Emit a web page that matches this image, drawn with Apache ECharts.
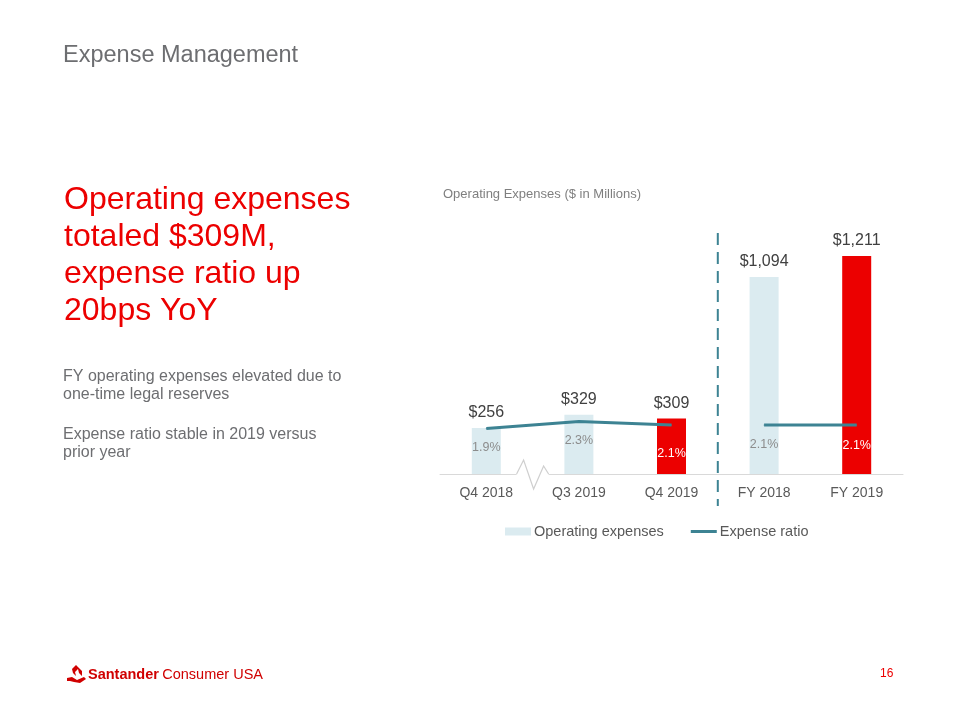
<!DOCTYPE html>
<html>
<head>
<meta charset="utf-8">
<script src="https://cdn.jsdelivr.net/npm/echarts@6/dist/echarts.min.js"></script>
<style>
  html, body { margin: 0; padding: 0; background: #fff; }
  #chart { width: 960px; height: 720px; }
</style>
</head>
<body>
<div id="chart"></div>
<script>
const categories = ['Q4 2018', 'Q3 2019', 'Q4 2019', 'FY 2018', 'FY 2019'];
const opex = [256, 329, 309, 1094, 1211];
const ratioQuarter = [1.9, 2.3, 2.1, null, null];
const ratioYear = [null, null, null, 2.1, 2.1];
const highlight = [false, false, true, false, true];
const ratioLabelGap = [12, 12, 21, 12, 13];

const RED = '#EC0000';
const LIGHT = '#DBEBF0';
const TEAL = '#3D8393';
const FONT = '"Liberation Sans", Arial, sans-serif';

const chart = echarts.init(document.getElementById('chart'));

function ratioData(arr) {
  return arr.map((v, i) => v == null ? '-' : {
    value: v,
    label: { color: highlight[i] ? '#fff' : '#8c8c8c', distance: ratioLabelGap[i] }
  });
}

const ratioLabel = {
  show: true,
  position: 'bottom',
  fontSize: 12.5,
  fontFamily: FONT,
  formatter: p => p.value.toFixed(1) + '%'
};

function ratioSeries(arr) {
  return {
    name: 'Expense ratio',
    type: 'line',
    yAxisIndex: 1,
    symbol: 'circle',
    symbolSize: 1,
    showSymbol: true,
    lineStyle: { color: TEAL, width: 3 },
    itemStyle: { color: TEAL },
    label: ratioLabel,
    data: ratioData(arr),
    z: 3
  };
}

const titleText = (text, left, top, style) => ({
  text, left, top, padding: 0,
  textStyle: Object.assign({ fontWeight: 'normal', fontFamily: FONT }, style)
});

const option = {
  backgroundColor: '#fff',
  textStyle: { fontFamily: FONT },
  title: [
    titleText('Expense Management', 63, 44, { fontSize: 23.5, color: '#6d6e71' }),
    titleText('Operating expenses\ntotaled $309M,\nexpense ratio up\n20bps YoY', 64, 182,
      { fontSize: 32, color: RED, lineHeight: 37 }),
    titleText('FY operating expenses elevated due to\none-time legal reserves', 63, 368,
      { fontSize: 16, color: '#6d6e71', lineHeight: 18 }),
    titleText('Expense ratio stable in 2019 versus\nprior year', 63, 426,
      { fontSize: 16, color: '#6d6e71', lineHeight: 18 }),
    titleText('Operating Expenses ($ in Millions)', 443, 188, { fontSize: 13, color: '#7f7f7f' }),
    titleText('16', 880, 668, { fontSize: 12, color: RED })
  ],
  legend: {
    data: [
      { name: 'Operating expenses', icon: 'rect' },
      { name: 'Expense ratio', icon: 'path://M0 0 H26 V3 H0 Z' }
    ],
    left: 500,
    top: 519,
    itemWidth: 26,
    itemHeight: 8,
    itemGap: 27,
    textStyle: { fontSize: 14.5, color: '#595959', fontFamily: FONT, padding: [0, 0, 0, -2] }
  },
  grid: { left: 440, right: 57, top: 231, bottom: 246 },
  xAxis: {
    type: 'category',
    data: categories,
    axisLine: { lineStyle: { color: '#d9d9d9', width: 1 } },
    axisTick: { show: false },
    axisLabel: { fontSize: 14, color: '#595959', margin: 12, fontFamily: FONT }
  },
  yAxis: [
    { type: 'value', min: 0, max: 1350, show: false, splitLine: { show: false } },
    { type: 'value', min: -0.7, max: 13.2, show: false, splitLine: { show: false } }
  ],
  series: [
    {
      name: 'Operating expenses',
      type: 'bar',
      barWidth: 29,
      itemStyle: { color: LIGHT },
      data: opex.map((v, i) => ({ value: v, itemStyle: { color: highlight[i] ? RED : LIGHT } })),
      label: {
        show: true,
        position: 'top',
        distance: 7,
        fontSize: 16,
        color: '#404040',
        fontFamily: FONT,
        formatter: p => '$' + p.value.toLocaleString('en-US')
      },
      z: 1
    },
    ratioSeries(ratioQuarter),
    ratioSeries(ratioYear)
  ]
};

chart.setOption(option);

// decorations placed from the axis scale: break mark, divider, logo
const px = i => chart.convertToPixel({ xAxisIndex: 0 }, i);
const baseY = chart.convertToPixel({ yAxisIndex: 0 }, 0);
const breakX = (px(0) + px(1)) / 2;
const dividerX = (px(2) + px(3)) / 2;

chart.setOption({
  graphic: [
    { type: 'rect', shape: { x: breakX - 16, y: baseY - 2, width: 32, height: 4 },
      style: { fill: '#fff' }, z: 10 },
    { type: 'polyline', z: 11,
      shape: { points: [[breakX - 16, baseY], [breakX - 9, baseY - 14], [breakX + 1, baseY + 15],
                        [breakX + 11, baseY - 8], [breakX + 16, baseY]] },
      style: { stroke: '#cfcfcf', lineWidth: 1.2, fill: null } },
    { type: 'line', z: 11,
      shape: { x1: dividerX, y1: 233, x2: dividerX, y2: 506 },
      style: { stroke: TEAL, lineWidth: 2, lineDash: [12, 7] } },
    // logo flame
    { type: 'polygon', z: 11,
      shape: { points: [[76, 665], [72, 669], [73, 673], [76, 676], [75, 672], [78, 669], [79, 673], [82, 676], [82, 671]] },
      style: { fill: '#d00000' } },
    { type: 'polygon', z: 11,
      shape: { points: [[67, 678], [72, 677], [77, 680], [84, 677], [86, 679], [80, 683], [74, 682], [70, 681], [67, 681]] },
      style: { fill: '#d00000' } },
    { type: 'text', z: 11, left: 88, top: 667,
      style: {
        text: '{b|Santander} {r|Consumer USA}',
        rich: {
          b: { fontSize: 14.5, fontWeight: 'bold', fill: '#d00000', fontFamily: FONT },
          r: { fontSize: 14.5, fill: '#d00000', fontFamily: FONT }
        }
      } }
  ]
});
</script>
</body>
</html>
